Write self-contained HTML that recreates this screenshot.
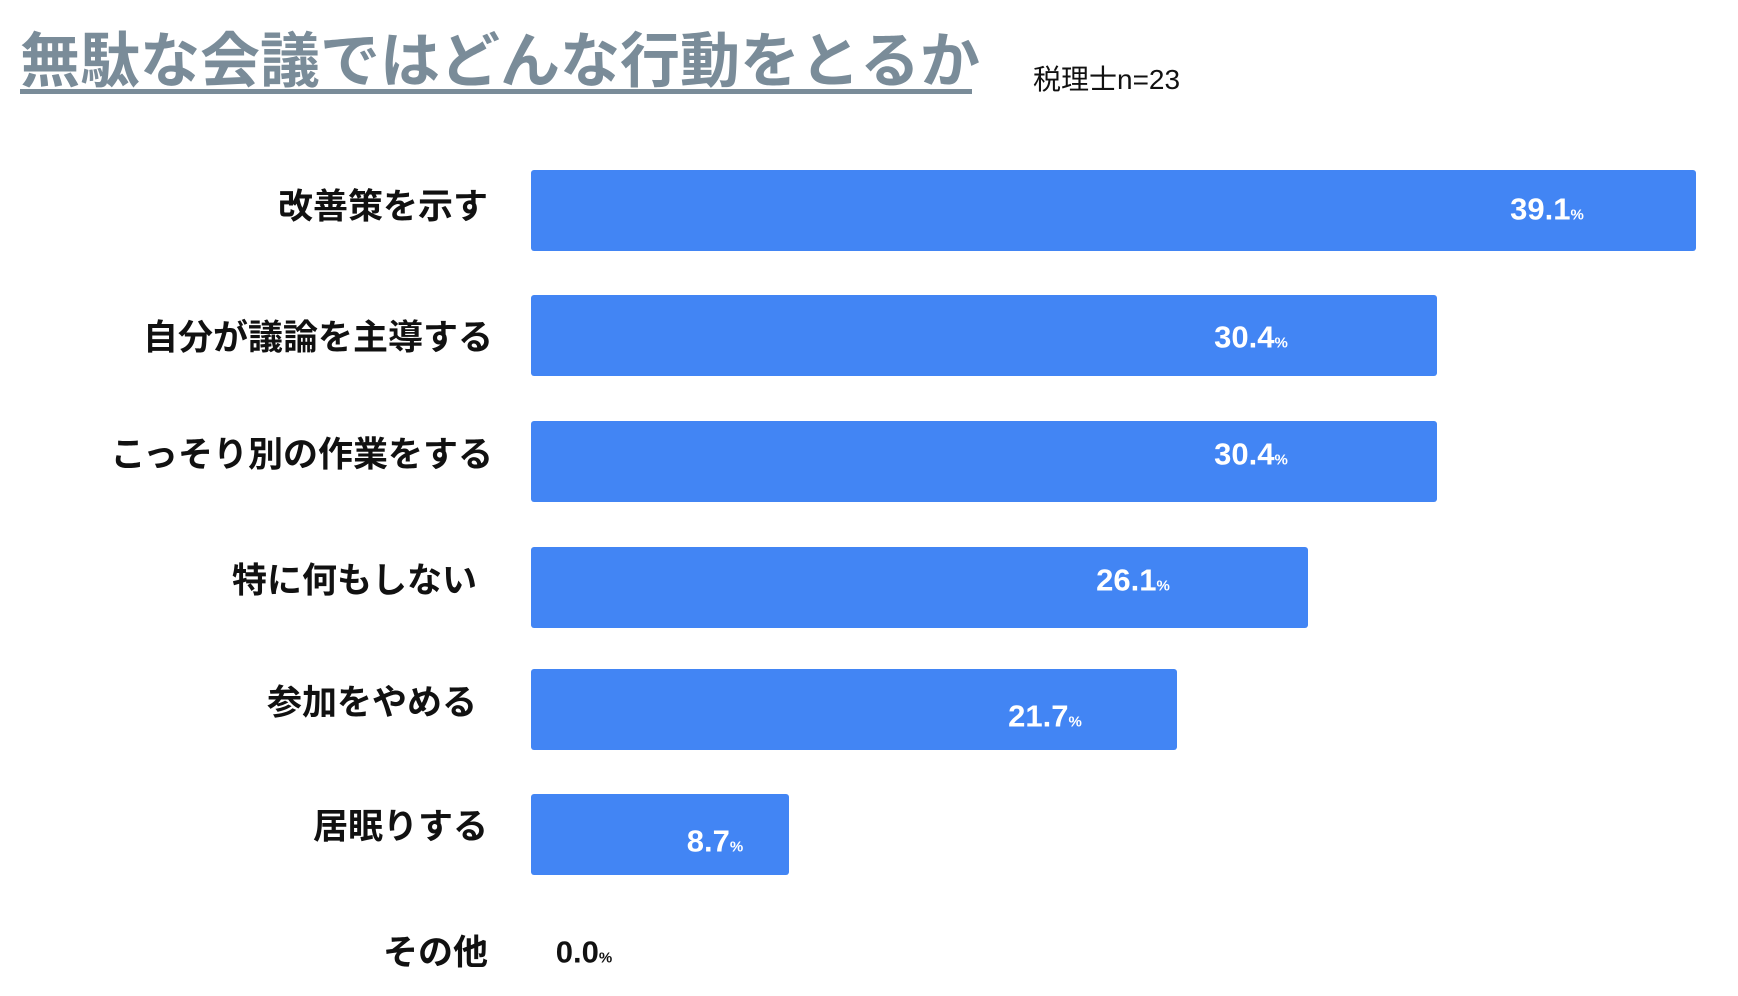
<!DOCTYPE html>
<html><head><meta charset="utf-8"><style>
body{margin:0;width:1738px;height:996px;background:#fff;position:relative;overflow:hidden;font-family:"Liberation Sans","Noto Sans CJK JP",sans-serif}
.t{position:absolute;left:20px;top:32px;font-size:60px;font-weight:bold;color:#7a8c99;line-height:1;white-space:nowrap}
.u{position:absolute;left:20px;top:89px;width:952px;height:5px;background:#7a8c99}
.n{position:absolute;left:1033px;top:58px;font-size:28px;color:#111;white-space:nowrap}
.l{position:absolute;font-size:35px;font-weight:bold;color:#111;white-space:nowrap;line-height:1;transform:translateY(-50%)}
.b{position:absolute;left:531px;height:81px;background:#4285f4;border-radius:3px}
.v{position:absolute;font-size:31px;font-weight:bold;color:#fff;white-space:nowrap;line-height:1;transform:translate(-50%,-50%)}
.v small{font-size:15px}
</style></head><body>
<div class="t">無駄な会議ではどんな行動をとるか</div>
<div class="u"></div>
<div class="n">税理士n=23</div>

<div class="l" style="top:207px;right:1250px">改善策を示す</div>
<div class="l" style="top:338px;right:1245px">自分が議論を主導する</div>
<div class="l" style="top:455px;right:1245px">こっそり別の作業をする</div>
<div class="l" style="top:581px;right:1261px">特に何もしない</div>
<div class="l" style="top:703px;right:1261px">参加をやめる</div>
<div class="l" style="top:827px;right:1250px">居眠りする</div>
<div class="l" style="top:953px;right:1250px">その他</div>

<div class="b" style="top:170px;width:1165px"></div>
<div class="b" style="top:295px;width:906px"></div>
<div class="b" style="top:421px;width:906px"></div>
<div class="b" style="top:547px;width:777px"></div>
<div class="b" style="top:669px;width:646px"></div>
<div class="b" style="top:794px;width:258px"></div>

<div class="v" style="left:1547px;top:209px">39.1<small>%</small></div>
<div class="v" style="left:1251px;top:337px">30.4<small>%</small></div>
<div class="v" style="left:1251px;top:454px">30.4<small>%</small></div>
<div class="v" style="left:1133px;top:580px">26.1<small>%</small></div>
<div class="v" style="left:1045px;top:716px">21.7<small>%</small></div>
<div class="v" style="left:715px;top:841px">8.7<small>%</small></div>
<div class="v" style="left:584px;top:952px;color:#111">0.0<small>%</small></div>
</body></html>
